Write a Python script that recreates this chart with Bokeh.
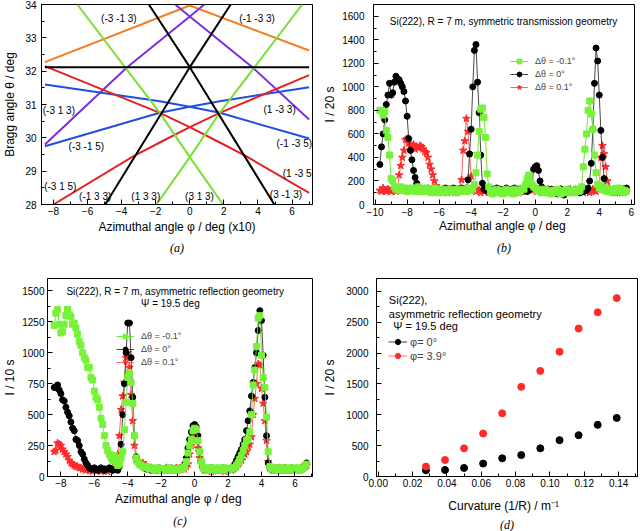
import numpy as np
from bokeh.plotting import figure
from bokeh.models import (FixedTicker, Label, Legend, LegendItem,
                          Title, Range1d, NumeralTickFormatter)
from bokeh.layouts import column, row
from bokeh.embed import file_html
from bokeh.resources import INLINE

FONT = "Liberation Sans"
SERIF = "Liberation Serif"

# ---------------- (a) Bragg angle vs azimuth curves ----------------
a_orange_x = [-8.5, 0.0, 7.0];               a_orange_y = [32.27, 33.97, 32.62]
a_purple1_x = [-8.5, -3.71, 0.0, 0.85];      a_purple1_y = [29.8, 32.1, 33.64, 34.0]
a_purple2_x = [-0.85, 0.0, 3.71, 7.0];       a_purple2_y = [34.0, 33.64, 32.1, 30.55]
a_black0_x = [-8.5, 7.0];                    a_black0_y = [32.12, 32.12]
a_black1_x = [-2.4, 0.0, 4.96];              a_black1_y = [34.0, 32.12, 28.0]
a_black2_x = [-4.96, 0.0, 2.4];              a_black2_y = [28.0, 32.12, 34.0]
a_green1_x = [-6.6, -1.76, 0.0, 1.95];       a_green1_y = [34.0, 30.75, 29.42, 28.0]
a_green2_x = [-1.95, 0.0, 1.76, 6.6];        a_green2_y = [28.0, 29.42, 30.75, 34.0]
a_red1_x = [-8.5, -1.76, 0.0, 1.76, 3.3, 7.0]; a_red1_y = [32.15, 30.75, 30.32, 29.86, 29.45, 28.35]
a_red2_x = [-8.0, -3.3, -1.76, 0.0, 1.76, 7.0]; a_red2_y = [28.0, 29.45, 29.86, 30.32, 30.75, 31.88]
a_blue1_x = [-8.5, -1.76, 0.0, 1.76, 7.0];   a_blue1_y = [31.6, 31.1, 30.93, 30.75, 29.98]
a_blue2_x = [-8.5, -1.76, 0.0, 1.76, 7.0];   a_blue2_y = [29.75, 30.75, 30.93, 31.1, 31.52]

a_label_text = ["(-3 -1 3)", "(-1 -3 3)", "(-3 1 3)", "(1 -3 3)", "(-3 -1 5)", "(-1 -3 5)",
                "(1 -3 5)", "(-3 1 5)", "(-1 3 3)", "(1 3 3)", "(3 1 3)", "(3 -1 3)"]
a_label_x = [-4.16, 3.95, -7.68, 5.27, -6.07, 6.13, 6.4, -7.6, -5.55, -2.58, 0.57, 5.64]
a_label_y = [33.57, 33.57, 30.83, 30.85, 29.75, 29.83, 28.93, 28.55, 28.23, 28.25, 28.23, 28.3]

a_xticks = [-8, -6, -4, -2, 0, 2, 4, 6]
a_yticks = [28, 29, 30, 31, 32, 33, 34]

# ---------------- (b) symmetric transmission ----------------
b_x = np.round(np.arange(-9.7, 5.71, 0.1), 1)
b_green = [800, 800, 760, 790, 630, 570, 420, 220, 200, 150,
           130, 140, 120, 150, 130, 120, 140, 110, 130, 120,
           140, 120, 110, 130, 150, 120, 110, 130, 120, 140,
           110, 130, 100, 120, 140, 110, 100, 120, 130, 110,
           120, 100, 130, 110, 120, 130, 110, 120, 100, 130,
           120, 110, 130, 120, 110, 140, 120, 130, 130, 170,
           270, 420, 620, 810, 820, 740, 570, 260, 150, 110,
           90, 120, 100, 130, 110, 100, 120, 90, 110, 130,
           100, 120, 110, 90, 130, 110, 120, 100, 120, 140,
           130, 170, 220, 250, 200, 170, 150, 140, 120, 130,
           110, 100, 120, 130, 100, 110, 120, 90, 110, 120,
           100, 130, 110, 90, 120, 100, 110, 130, 100, 120,
           110, 100, 120, 130, 110, 120, 150, 320, 470, 600,
           800, 880, 770, 640, 420, 270, 170, 140, 160, 130,
           120, 140, 110, 130, 120, 100, 130, 110, 120, 140,
           110, 130, 100, 120, 110]
b_black = [340, 490, 600, 720, 850, 930, 1030, 930, 950, 1040,
           1090, 1070, 1060, 1030, 1000, 960, 880, 750, 560, 460,
           380, 290, 230, 180, 150, 140, 120, 130, 130, 120,
           140, 110, 120, 130, 110, 120, 110, 130, 120, 110,
           130, 140, 120, 130, 110, 120, 140, 120, 130, 120,
           130, 140, 120, 130, 140, 210, 430, 640, 1000, 1310,
           1360, 1040, 780, 420, 180, 130, 120, 140, 110, 130,
           120, 130, 110, 140, 120, 130, 110, 120, 130, 140,
           120, 110, 130, 120, 140, 110, 130, 120, 110, 130,
           120, 130, 110, 140, 130, 160, 300, 320, 330, 290,
           200, 150, 120, 130, 110, 120, 100, 130, 110, 120,
           110, 90, 120, 130, 110, 80, 120, 110, 130, 120,
           110, 120, 130, 110, 120, 100, 120, 110, 130, 120,
           140, 200, 350, 640, 1030, 1330, 1220, 930, 630, 400,
           220, 130, 120, 110, 130, 120, 100, 120, 130, 110,
           120, 110, 130, 120, 140]
b_red = [120, 110, 140, 120, 110, 130, 120, 110, 120, 130,
         110, 120, 250, 330, 400, 460, 550, 560, 520, 500,
         490, 510, 470, 490, 480, 500, 490, 470, 450, 440,
         400, 340, 300, 250, 200, 160, 130, 110, 120, 100,
         110, 120, 100, 110, 130, 110, 120, 100, 120, 130,
         130, 210, 460, 540, 730, 620, 430, 240, 130, 120,
         110, 130, 120, 100, 120, 110, 130, 120, 100, 110,
         120, 110, 130, 100, 120, 110, 100, 120, 130, 110,
         100, 120, 110, 130, 100, 120, 110, 100, 120, 110,
         120, 110, 130, 120, 140, 120, 150, 130, 110, 120,
         130, 110, 100, 120, 110, 130, 100, 120, 110, 100,
         120, 110, 100, 130, 120, 110, 100, 120, 110, 130,
         100, 120, 110, 100, 120, 130, 110, 100, 120, 110,
         120, 100, 110, 130, 120, 110, 130, 150, 400, 500,
         430, 320, 200, 140, 120, 110, 130, 100, 120, 110,
         120, 100, 130, 110, 120]
b_xticks = [-10, -8, -6, -4, -2, 0, 2, 4, 6]
b_yticks = [0, 200, 400, 600, 800, 1000, 1200, 1400, 1600]

# ---------------- (c) asymmetric reflection ----------------
c_x = np.round(np.arange(-8.4, 6.71, 0.1), 1)
c_green = [1220, 1320, 1350, 1230, 1160, 1170, 1230, 1300, 1350, 1310,
           1290, 1230, 1240, 1200, 1150, 1090, 1060, 1000, 960, 940,
           880, 880, 800, 780, 690, 640, 620, 560, 470, 420,
           330, 250, 210, 180, 150, 130, 170, 110, 90, 100,
           150, 200, 380, 600, 800, 840, 760, 590, 330, 150,
           120, 100, 90, 80, 70, 80, 70, 60, 70, 60,
           50, 60, 70, 60, 50, 60, 60, 50, 60, 70,
           60, 50, 60, 60, 50, 60, 70, 60, 80, 120,
           190, 250, 300, 370, 390, 380, 290, 200, 120, 70,
           60, 70, 50, 60, 70, 60, 50, 60, 70, 60,
           50, 60, 70, 60, 50, 60, 60, 70, 70, 90,
           110, 140, 170, 210, 250, 290, 300, 360, 500, 740,
           860, 1050, 1280, 1300, 980, 800, 720, 480, 200, 80,
           60, 70, 50, 60, 70, 60, 50, 70, 60, 50,
           60, 70, 60, 50, 60, 70, 60, 50, 60, 70,
           90, 100]
c_black = [720, 720, 740, 700, 670, 620, 610, 560, 520, 490,
           440, 390, 370, 300, 290, 250, 200, 180, 140, 110,
           90, 70, 60, 60, 70, 60, 50, 60, 70, 60,
           50, 60, 60, 70, 60, 50, 60, 60, 50, 80,
           260, 500, 750, 1000, 1240, 1240, 960, 640, 330, 160,
           120, 100, 90, 80, 70, 60, 70, 60, 50, 60,
           60, 50, 60, 70, 60, 50, 60, 60, 50, 60,
           70, 60, 50, 60, 60, 70, 60, 80, 100, 150,
           230, 300, 360, 410, 420, 400, 330, 200, 120, 70,
           60, 50, 60, 60, 70, 60, 50, 60, 60, 50,
           60, 70, 60, 50, 60, 60, 70, 60, 100, 130,
           160, 190, 220, 260, 300, 370, 450, 530, 650, 760,
           880, 1000, 1180, 1340, 1260, 980, 640, 330, 110, 70,
           60, 50, 60, 70, 60, 50, 60, 60, 70, 50,
           60, 60, 70, 50, 60, 60, 50, 60, 70, 80,
           90, 110]
c_red = [200, 210, 270, 260, 250, 220, 200, 180, 160, 130,
         110, 100, 90, 80, 80, 70, 70, 60, 60, 50,
         60, 50, 50, 40, 60, 50, 50, 60, 40, 50,
         60, 50, 40, 60, 50, 70, 60, 100, 180, 330,
         540, 650, 760, 960, 1000, 880, 660, 450, 250, 140,
         120, 110, 100, 110, 90, 90, 70, 60, 70, 60,
         50, 60, 60, 50, 60, 50, 60, 70, 60, 50,
         60, 50, 60, 70, 50, 60, 60, 70, 60, 80,
         100, 180, 250, 330, 350, 300, 230, 150, 100, 70,
         50, 60, 50, 60, 40, 50, 60, 50, 60, 50,
         60, 50, 40, 60, 50, 60, 50, 60, 70, 80,
         100, 110, 130, 160, 180, 200, 240, 260, 320, 500,
         630, 750, 910, 900, 710, 590, 450, 290, 120, 70,
         60, 50, 60, 50, 60, 70, 50, 60, 50, 60,
         50, 60, 50, 60, 60, 50, 60, 50, 60, 70,
         80, 90]
c_xticks = [-8, -6, -4, -2, 0, 2, 4, 6]
c_yticks = [0, 250, 500, 750, 1000, 1250, 1500]

# ---------------- (d) intensity vs curvature ----------------
d_curv = [0.0278, 0.0389, 0.0500, 0.0611, 0.0722, 0.0833, 0.0944, 0.1056, 0.1167, 0.1278, 0.1389]
d_phi0 = [101, 106, 139, 209, 295, 348, 456, 589, 670, 837, 950]
d_phi39 = [161, 267, 456, 697, 1024, 1454, 1712, 2022, 2399, 2662, 2892]
d_xticks = [0.00, 0.02, 0.04, 0.06, 0.08, 0.10, 0.12, 0.14]
d_yticks = [0, 500, 1000, 1500, 2000, 2500, 3000]


def minors(ticks, lo, hi):
    step = (ticks[1] - ticks[0]) / 2.0
    out = []
    v = ticks[0] - step * 4
    while v <= hi + 1e-9:
        if v >= lo - 1e-9:
            out.append(round(v, 6))
        v += step
    return out


def make_fig(width, height, xr, yr, bl, br, bt, bb, xticks, yticks):
    p = figure(width=width, height=height, x_range=Range1d(*xr), y_range=Range1d(*yr),
               output_backend="svg", toolbar_location=None,
               min_border_left=bl, min_border_right=br, min_border_top=bt, min_border_bottom=bb)
    p.title.visible = False
    p.xgrid.visible = False
    p.ygrid.visible = False
    p.outline_line_color = "black"
    p.outline_line_alpha = 1.0
    p.outline_line_width = 1
    p.background_fill_color = "white"
    p.border_fill_color = "white"
    p.xaxis.ticker = FixedTicker(ticks=xticks, minor_ticks=minors(xticks, xr[0], xr[1]))
    p.yaxis.ticker = FixedTicker(ticks=yticks, minor_ticks=minors(yticks, yr[0], yr[1]))
    for ax in [p.xaxis[0], p.yaxis[0]]:
        ax.axis_line_color = "black"
        ax.major_tick_line_color = "black"
        ax.minor_tick_line_color = "black"
        ax.major_tick_in = 5
        ax.major_tick_out = 0
        ax.minor_tick_in = 3
        ax.minor_tick_out = 0
        ax.major_label_text_font = FONT
        ax.major_label_text_font_size = "10px"
        ax.major_label_text_color = "black"
        ax.axis_label_text_font = FONT
        ax.axis_label_text_font_size = "12px"
        ax.axis_label_text_font_style = "normal"
        ax.axis_label_text_color = "black"
    return p


def caption(p, text, standoff, size="12px"):
    p.add_layout(Title(text=text, align="center", text_font=SERIF, text_font_style="italic",
                       text_font_size=size, text_color="black", standoff=standoff), "below")


# ---------- panel (a)
pa = make_fig(320, 265, (-8.7, 7.2), (28, 34), 41, 8, 4, 61, a_xticks, a_yticks)
pa.xaxis.axis_label = "Azimuthal angle φ / deg (x10)"
pa.yaxis.axis_label = "Bragg angle θ / deg"
pa.xaxis.major_label_standoff = 2
pa.xaxis.axis_label_standoff = 2
pa.yaxis.major_label_standoff = 5
pa.yaxis.axis_label_standoff = 5
for xs, ys, col in [
    (a_orange_x, a_orange_y, "#f47c22"),
    (a_purple1_x, a_purple1_y, "#7a2ee0"), (a_purple2_x, a_purple2_y, "#7a2ee0"),
    (a_blue1_x, a_blue1_y, "#1f4fe0"), (a_blue2_x, a_blue2_y, "#1f4fe0"),
    (a_red1_x, a_red1_y, "#e42222"), (a_red2_x, a_red2_y, "#e42222"),
    (a_green1_x, a_green1_y, "#78e035"), (a_green2_x, a_green2_y, "#78e035"),
    (a_black1_x, a_black1_y, "black"), (a_black2_x, a_black2_y, "black"),
    (a_black0_x, a_black0_y, "black"),
]:
    pa.line(xs, ys, line_color=col, line_width=2)
for t, x, y in zip(a_label_text, a_label_x, a_label_y):
    pa.add_layout(Label(x=x, y=y, text=t, text_align="center", text_baseline="middle",
                        text_font=FONT, text_font_size="10px", text_color="black"))
caption(pa, "(a)", 5)

GREEN = "#77f23a"
GREEN_LINE = "#66dd33"
RED = "#ff2a2a"


def scan_panel(p, x, g, k, r, loc):
    rl = p.line(x, r, line_color="#ff5555", line_width=0.9)
    rs = p.scatter(x, r, marker="star", size=8, fill_color=RED, line_color=RED)
    kl = p.line(x, k, line_color="#333333", line_width=0.9)
    ks = p.scatter(x, k, marker="circle", size=6, fill_color="black", line_color="black")
    gl = p.line(x, g, line_color=GREEN_LINE, line_width=0.9)
    gs = p.scatter(x, g, marker="square", size=6, fill_color=GREEN, line_color=GREEN)
    leg = Legend(items=[LegendItem(label="Δθ = -0.1°", renderers=[gl, gs]),
                        LegendItem(label="Δθ = 0°", renderers=[kl, ks]),
                        LegendItem(label="Δθ = 0.1°", renderers=[rl, rs])],
                 location=loc, border_line_color=None, background_fill_alpha=0,
                 padding=0, margin=0, spacing=1, glyph_width=18, glyph_height=12,
                 label_height=12, label_standoff=7, label_text_font=FONT,
                 label_text_font_size="9px")
    p.add_layout(leg)


# ---------- panel (b)
pb = make_fig(320, 265, (-10.1, 6.2), (0, 1700), 49, 6, 4, 61, b_xticks, b_yticks)
pb.xaxis.axis_label = "Azimuthal angle φ  / deg"
pb.yaxis.axis_label = "I / 20 s"
pb.xaxis.major_label_standoff = 3
pb.xaxis.axis_label_standoff = 0
pb.yaxis.major_label_standoff = 9
pb.yaxis.axis_label_standoff = 2
scan_panel(pb, b_x, b_green, b_black, b_red, (137, 111))
pb.add_layout(Label(x=-1.98, y=1555, text="Si(222), R = 7 m, symmetric transmission geometry",
                    text_align="center", text_baseline="middle", text_font=FONT,
                    text_font_size="10px", text_color="black"))
caption(pb, "(b)", 6)

# ---------- panel (c)
pc = make_fig(320, 266, (-8.8, 7.05), (0, 1600), 41, 8, 13, 53, c_xticks, c_yticks)
pc.xaxis.axis_label = "Azimuthal angle φ  / deg"
pc.yaxis.axis_label = "I / 10 s"
pc.xaxis.major_label_standoff = 2
pc.xaxis.axis_label_standoff = 2
pc.yaxis.major_label_standoff = 3
pc.yaxis.axis_label_standoff = 2
scan_panel(pc, c_x, c_green, c_black, c_red, (69, 108))
pc.add_layout(Label(x=-1.16, y=1496, text="Si(222), R = 7 m, asymmetric reflection geometry",
                    text_align="center", text_baseline="middle", text_font=FONT,
                    text_font_size="10px", text_color="black"))
pc.add_layout(Label(x=-1.45, y=1398, text="Ψ = 19.5 deg",
                    text_align="center", text_baseline="middle", text_font=FONT,
                    text_font_size="10px", text_color="black"))
caption(pc, "(c)", 6)

# ---------- panel (d)
pd_ = make_fig(320, 266, (-0.001, 0.151), (0, 3210), 48, 3, 13, 54, d_xticks, d_yticks)
pd_.xaxis.axis_label = "Curvature (1/R)  /  m⁻¹"
pd_.yaxis.axis_label = "I / 20 s"
pd_.xaxis.formatter = NumeralTickFormatter(format="0.00")
pd_.xaxis.major_label_standoff = 2
pd_.xaxis.axis_label_standoff = 9
pd_.yaxis.major_label_standoff = 8
pd_.yaxis.axis_label_standoff = 6
d0l = pd_.line([np.nan, np.nan], [np.nan, np.nan], line_color="#444444", line_width=1)
d0s = pd_.scatter(d_curv, d_phi0, marker="circle", size=7, fill_color="black", line_color="black")
d1l = pd_.line([np.nan, np.nan], [np.nan, np.nan], line_color="#ff7070", line_width=1)
d1s = pd_.scatter(d_curv, d_phi39, marker="circle", size=7, fill_color=RED, line_color=RED)
pd_.add_layout(Legend(items=[LegendItem(label="φ= 0°", renderers=[d0l, d0s]),
                             LegendItem(label="φ= 3.9°", renderers=[d1l, d1s])],
                      location=(12, 114), border_line_color=None, background_fill_alpha=0,
                      padding=0, margin=0, spacing=1, glyph_width=19, glyph_height=13,
                      label_height=13, label_standoff=3, label_text_font=FONT,
                      label_text_font_size="11px"))
for t, x, y in [("Si(222),", 0.0062, 2867),
                ("asymmetric reflection geometry", 0.0062, 2642),
                ("Ψ = 19.5 deg", 0.0088, 2437)]:
    pd_.add_layout(Label(x=x, y=y, text=t, text_align="left", text_baseline="middle",
                         text_font=FONT, text_font_size="11px", text_color="black"))
caption(pd_, "(d)", 0)

layout = column(row(pa, pb), row(pc, pd_))
open("out.html", "w").write(file_html(layout, INLINE))
